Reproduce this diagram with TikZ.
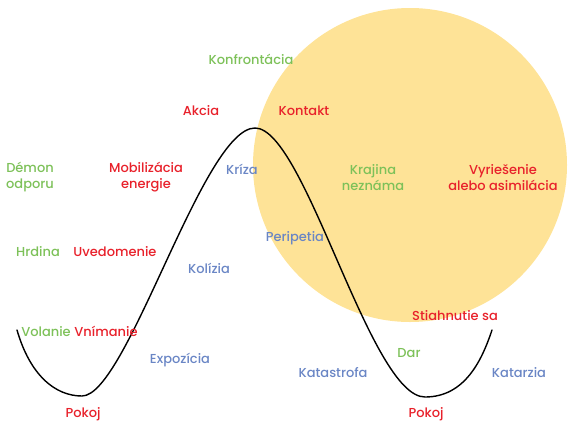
\documentclass[tikz,border=0pt]{standalone}
\usepackage{fontspec}
\setmainfont{Poppins}[UprightFont=* Medium]
\definecolor{hgreen}{HTML}{7DC159}
\definecolor{hred}{HTML}{E8212B}
\definecolor{hblue}{HTML}{6A86C5}
\definecolor{sun}{HTML}{FEE397}
\begin{document}
\begin{tikzpicture}[x=1pt,y=-1pt,
  lbl/.style={font=\fontsize{13}{16}\selectfont, inner sep=0pt, align=center, yshift=-1.5pt},
  grn/.style={lbl, text=hgreen},
  rd/.style={lbl, text=hred},
  bl/.style={lbl, text=hblue},
  path/.style={line width=1.4pt, black, line cap=round}]
\useasboundingbox (0,0) rectangle (570,421);
% the unknown land
\fill[sun] (410,165) circle[radius=157];
% journey line
\coordinate (s) at (17,330);
\coordinate (m1) at (82,396);
\coordinate (pk) at (255,128);
\coordinate (m2) at (425,397);
\coordinate (e) at (492,330);
\draw[path] (s) .. controls (30,375) and (55,396) .. (m1)
  .. controls (127,396) and (203,128) .. (pk)
  .. controls (305,128) and (370,397) .. (m2)
  .. controls (465,397) and (482,360) .. (e);
% labels
\node[grn] (konf) at (251,58) {Konfrontácia};
\node[rd] (akcia) at (201,109) {Akcia};
\node[rd] (kont) at (304,109) {Kontakt};
\node[grn] (demon) at (30,176) {Démon\\odporu};
\node[rd] (mob) at (146,176) {Mobilizácia\\energie};
\node[bl] (kriza) at (242,168) {Kríza};
\node[grn] (kraj) at (373,176) {Krajina\\neznáma};
\node[rd] (vyr) at (503,176) {Vyriešenie\\alebo asimilácia};
\node[grn] (hrd) at (38,250) {Hrdina};
\node[rd] (uved) at (115,250) {Uvedomenie};
\node[bl] (kol) at (209,267) {Kolízia};
\node[bl] (peri) at (295,237) {Peripetia};
\node[grn] (vol) at (46,330) {Volanie};
\node[rd] (vnim) at (106,330) {Vnímanie};
\node[bl] (expo) at (180,359) {Expozícia};
\node[rd] (stia) at (455,314) {Stiahnutie sa};
\node[grn] (dar) at (409,352) {Dar};
\node[bl] (kat) at (333,371) {Katastrofa};
\node[bl] (katar) at (519,371) {Katarzia};
\node[rd] (pok1) at (83,413) {Pokoj};
\node[rd] (pok2) at (426,413) {Pokoj};
\end{tikzpicture}
\end{document}
